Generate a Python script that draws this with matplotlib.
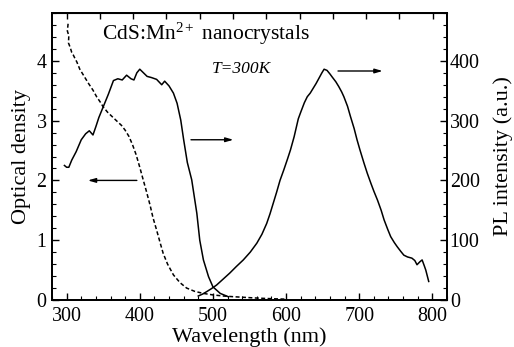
import matplotlib
matplotlib.use("Agg")
import matplotlib.pyplot as plt
from matplotlib.ticker import MultipleLocator

plt.rcParams['font.family'] = ['Liberation Serif', 'DejaVu Serif']
plt.rcParams['mathtext.fontset'] = 'custom'
plt.rcParams['mathtext.rm'] = 'Liberation Serif'
plt.rcParams['mathtext.it'] = 'Liberation Serif:italic'

# ---- data ----
# absorption (optical density, left axis) - dashed
abs_wl = [302, 301, 303, 302.5, 305, 307, 309, 311, 314, 318, 323, 330, 336, 341, 346,
          350, 356, 362, 368, 375, 380, 385, 390, 395, 400, 404, 409, 414, 418, 423,
          428, 432, 438, 446, 455, 464, 475, 487, 500, 514, 528, 542, 556, 570, 584, 598]
abs_od = [4.62, 4.50, 4.42, 4.30, 4.22, 4.14, 4.10, 4.05, 3.98, 3.86, 3.76, 3.62, 3.51,
          3.40, 3.31, 3.23, 3.14, 3.07, 3.00, 2.92, 2.84, 2.74, 2.60, 2.43, 2.22, 2.04,
          1.82, 1.59, 1.38, 1.17, 0.95, 0.78, 0.60, 0.42, 0.29, 0.20, 0.145, 0.11, 0.085,
          0.067, 0.055, 0.045, 0.035, 0.027, 0.02, 0.015]

# PL excitation (right axis) - solid
exc_wl = [297, 300, 303, 307, 313, 320, 326, 331, 336, 340, 344, 350, 357, 364, 370, 376,
          382, 388, 392, 396, 400, 405, 410, 416, 423, 430, 434, 440, 446, 451, 456, 460,
          465, 471, 478, 482, 487, 494, 500, 510, 521]
exc_pl = [225, 222, 222, 234, 248, 268, 278, 283, 276, 290, 305, 323, 344, 367, 370, 368,
          376, 370, 368, 380, 386, 380, 374, 372, 369, 360, 366, 358, 346, 329, 301, 268,
          230, 201, 145, 100, 67, 39, 22, 11, 5.5]

# PL emission (right axis) - solid
em_wl = [480, 486, 491.5, 498, 505, 514, 523, 532, 541.5, 551, 560, 567, 573.5, 578, 582.5,
         587, 591.7, 597, 602, 606, 611, 616.7, 620, 625, 629, 633, 637, 641, 645, 649, 652,
         656, 660, 663, 668, 672, 676, 679, 684, 688, 693, 697, 701, 706.5, 711, 716, 720,
         725, 730, 734, 739, 743, 748, 752, 757, 761, 766, 772, 776, 779, 783, 786, 789,
         791, 795]
em_pl = [6.7, 10, 14, 19, 25, 35, 45, 56, 67, 80, 95, 110, 128, 144, 162, 180, 200, 218,
         236, 251, 273, 303, 314, 330, 340, 346, 354, 362, 371, 380, 386, 384, 378, 373,
         365, 357, 348, 340, 324, 307, 287, 268, 251, 229, 212, 195, 182, 167, 150, 134,
         118, 106, 96, 89, 81, 75, 72, 70, 66, 59, 64, 67, 57, 50, 31]

title_text = "CdS:Mn$^{2+}$ nanocrystals"
temp_text = "T=300K"
xlabel = "Wavelength (nm)"
ylabel_left = "Optical density"
ylabel_right = "PL intensity (a.u.)"

# ---- figure ----
fig = plt.figure(figsize=(5.14, 3.47), dpi=100)
ax = fig.add_axes([52/514, 1 - 300/347, 395/514, 287/347])
ax2 = ax.twinx()

ax.plot(abs_wl, abs_od, color='black', lw=1.1, ls=(0, (2.6, 1.6)))
ax2.plot(exc_wl, exc_pl, color='black', lw=1.1)
ax2.plot(em_wl, em_pl, color='black', lw=1.1)

ax.set_xlim(280, 820)
ax.set_ylim(0, 4.8)
ax2.set_ylim(0, 480)

ax.xaxis.set_major_locator(MultipleLocator(100))
ax.xaxis.set_minor_locator(MultipleLocator(20))
ax.yaxis.set_major_locator(MultipleLocator(1))
ax.yaxis.set_minor_locator(MultipleLocator(0.2))
ax2.yaxis.set_major_locator(MultipleLocator(100))
ax2.yaxis.set_minor_locator(MultipleLocator(20))

tick_fs = 14.4
ax.tick_params(axis='both', which='major', direction='in', length=5, width=1,
               labelsize=tick_fs, pad=4)
ax.tick_params(axis='both', which='minor', direction='in', length=3, width=0.8)
ax.tick_params(axis='x', top=False, pad=5)
ax.tick_params(axis='y', right=False)
ax2.tick_params(axis='y', which='major', direction='in', length=5, width=1,
                labelsize=tick_fs, pad=2)
ax2.tick_params(axis='y', which='minor', direction='in', length=3, width=0.8)

top = ax.secondary_xaxis('top')
top.set_xticks([300 + 45.5 * k for k in range(12)])
top.tick_params(direction='in', length=4, width=1, labeltop=False)
top.set_xticklabels([])

for a in (ax, ax2):
    for s in a.spines.values():
        s.set_linewidth(1.3)

ax.set_xlabel(xlabel, fontsize=16, labelpad=1)
ax.set_ylabel(ylabel_left, fontsize=16, labelpad=4)
ax2.set_ylabel(ylabel_right, fontsize=16, labelpad=10)

ax.text(348, 4.35, title_text, fontsize=15.5, ha='left', va='baseline')
ax.text(499, 3.80, temp_text, fontsize=12.5, style='italic', ha='left', va='baseline')

arrow_kw = dict(arrowstyle='-|>,head_length=0.45,head_width=0.13', lw=1.0, color='black',
                shrinkA=0, shrinkB=0)
ax.annotate('', xy=(732, 3.83), xytext=(671, 3.83), arrowprops=arrow_kw)
ax.annotate('', xy=(528, 2.68), xytext=(470, 2.68), arrowprops=arrow_kw)
ax.annotate('', xy=(329, 2.0), xytext=(396, 2.0), arrowprops=arrow_kw)

fig.savefig("out.png", dpi=100)
